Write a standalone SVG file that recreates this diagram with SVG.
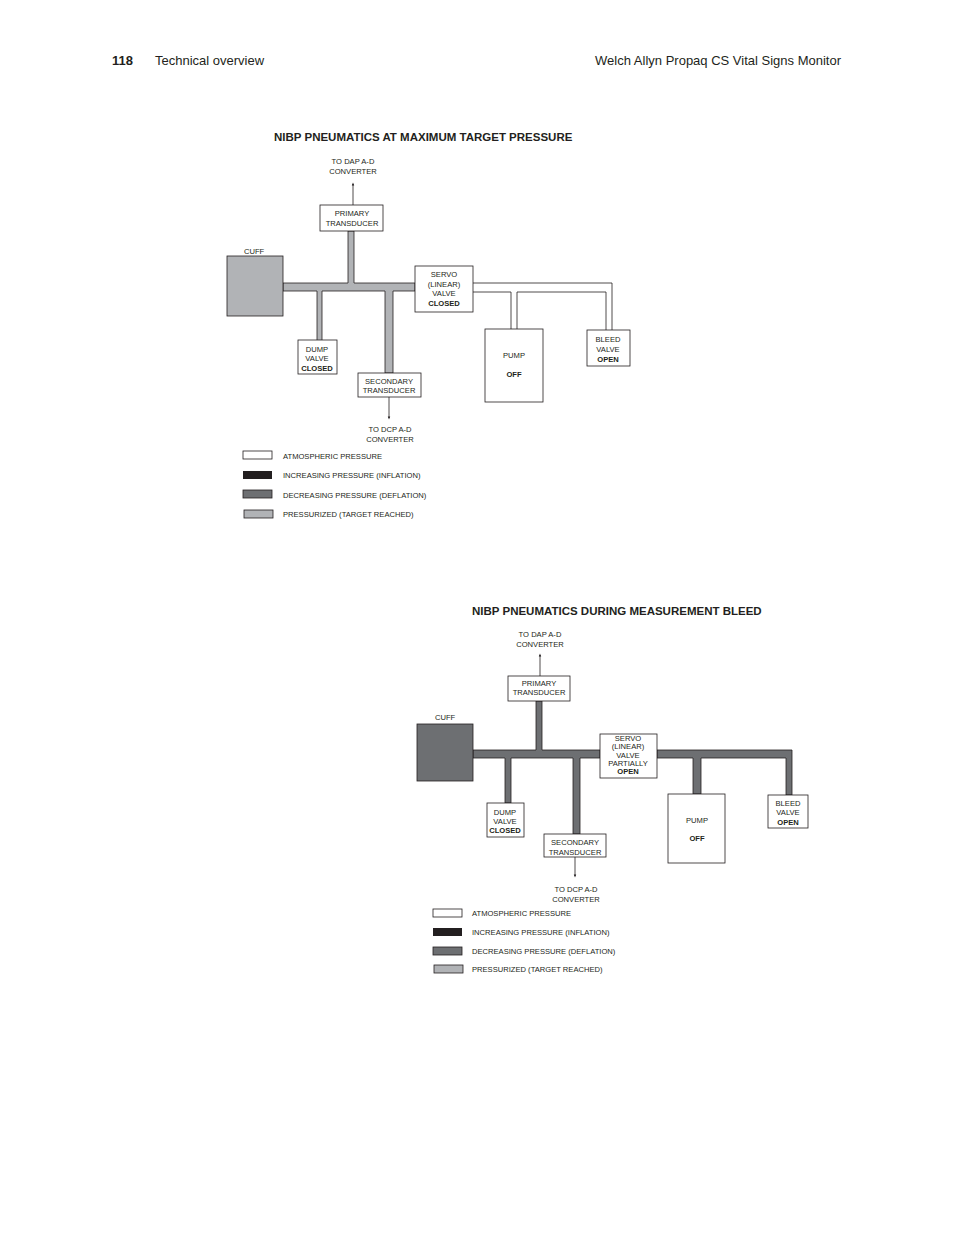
<svg xmlns="http://www.w3.org/2000/svg" width="954" height="1235" viewBox="0 0 954 1235">
<style>
text{font-family:"Liberation Sans",Arial,sans-serif;fill:#231f20}
.s{font-size:7.6px}
.c{text-anchor:middle}
.b{font-weight:bold}
.t{font-size:11.5px;font-weight:bold}
.h{font-size:13px;font-family:"Liberation Sans Narrow","Liberation Sans",sans-serif}
.box{fill:#fff;stroke:#231f20;stroke-width:0.8}
.lp{fill:#b1b3b6;stroke:#231f20;stroke-width:0.8}
.dp{fill:#6d6f72;stroke:#231f20;stroke-width:0.8}
.ln{fill:none;stroke:#231f20;stroke-width:0.8}
</style>
<defs><marker id="ah" markerWidth="4" markerHeight="4" refX="2" refY="2" orient="auto"><path d="M0,0.5L4,2L0,3.5z" fill="#231f20"/></marker></defs>
<g id="header">
<text class="h b" x="112" y="65">118</text>
<text class="h" x="155" y="65">Technical overview</text>
<text class="h" x="841" y="65" text-anchor="end">Welch Allyn Propaq CS Vital Signs Monitor</text>
</g>
<text class="t" x="274" y="141">NIBP PNEUMATICS AT MAXIMUM TARGET PRESSURE</text>
<g id="connectors1">
<path class="lp" d="M283,283H348V231H354V283H415V291H393V373H385V291H322V341H317V291H283Z"/>
<path class="ln" d="M473,283H612V330M473,292H511V329M517,329V292H606V330"/>
<line class="ln" x1="353" y1="205" x2="353" y2="184" marker-end="url(#ah)"/>
<line class="ln" x1="389" y1="397" x2="389" y2="418" marker-end="url(#ah)"/>
</g>
<g id="cuff1"><rect class="lp" x="227" y="256" width="56" height="60"/><text class="s" x="244" y="254">CUFF</text></g>
<g id="primary1"><rect class="box" x="320" y="205" width="63" height="26"/><text class="s c" x="352" y="216">PRIMARY</text><text class="s c" x="352" y="226">TRANSDUCER</text></g>
<text class="s c" x="353" y="164">TO DAP A-D</text><text class="s c" x="353" y="174">CONVERTER</text>
<g id="dump1"><rect class="box" x="298" y="340" width="39" height="34"/><text class="s c" x="317" y="352">DUMP</text><text class="s c" x="317" y="361">VALVE</text><text class="s c b" x="317" y="371">CLOSED</text></g>
<g id="secondary1"><rect class="box" x="358" y="373" width="63" height="24"/><text class="s c" x="389" y="384">SECONDARY</text><text class="s c" x="389" y="393">TRANSDUCER</text></g>
<text class="s c" x="390" y="432">TO DCP A-D</text><text class="s c" x="390" y="442">CONVERTER</text>
<g id="servo1"><rect class="box" x="415" y="266" width="58" height="46"/><text class="s c" x="444" y="277">SERVO</text><text class="s c" x="444" y="287">(LINEAR)</text><text class="s c" x="444" y="296">VALVE</text><text class="s c b" x="444" y="306">CLOSED</text></g>
<g id="pump1"><rect class="box" x="485" y="329" width="58" height="73"/><text class="s c" x="514" y="358">PUMP</text><text class="s c b" x="514" y="377">OFF</text></g>
<g id="bleed1"><rect class="box" x="587" y="330" width="43" height="36"/><text class="s c" x="608" y="342">BLEED</text><text class="s c" x="608" y="352">VALVE</text><text class="s c b" x="608" y="362">OPEN</text></g>
<g id="legend1">
<rect class="box" x="243" y="451" width="29" height="8"/><text class="s" x="283" y="459">ATMOSPHERIC PRESSURE</text>
<rect x="243" y="471" width="29" height="8" fill="#231f20"/><text class="s" x="283" y="478">INCREASING PRESSURE (INFLATION)</text>
<rect class="dp" x="243" y="490" width="29" height="8"/><text class="s" x="283" y="498">DECREASING PRESSURE (DEFLATION)</text>
<rect class="lp" x="244" y="510" width="29" height="8"/><text class="s" x="283" y="517">PRESSURIZED (TARGET REACHED)</text>
</g>
<text class="t" x="472" y="615">NIBP PNEUMATICS DURING MEASUREMENT BLEED</text>
<g id="connectors2">
<path class="dp" d="M473,750H536V701H542V750H600V758H580V834H573V758H511V803H505V758H473Z"/>
<path class="dp" d="M657,750H792V795H786V758H701V794H693V758H657Z"/>
<line class="ln" x1="540" y1="676" x2="540" y2="655" marker-end="url(#ah)"/>
<line class="ln" x1="575" y1="857" x2="575" y2="876" marker-end="url(#ah)"/>
</g>
<g id="cuff2"><rect class="dp" x="417" y="724" width="56" height="57"/><text class="s" x="435" y="720">CUFF</text></g>
<g id="primary2"><rect class="box" x="508" y="676" width="62" height="25"/><text class="s c" x="539" y="686">PRIMARY</text><text class="s c" x="539" y="695">TRANSDUCER</text></g>
<text class="s c" x="540" y="637">TO DAP A-D</text><text class="s c" x="540" y="647">CONVERTER</text>
<g id="dump2"><rect class="box" x="487" y="803" width="37" height="34"/><text class="s c" x="505" y="815">DUMP</text><text class="s c" x="505" y="824">VALVE</text><text class="s c b" x="505" y="833">CLOSED</text></g>
<g id="secondary2"><rect class="box" x="544" y="834" width="62" height="23"/><text class="s c" x="575" y="845">SECONDARY</text><text class="s c" x="575" y="855">TRANSDUCER</text></g>
<text class="s c" x="576" y="892">TO DCP A-D</text><text class="s c" x="576" y="902">CONVERTER</text>
<g id="servo2"><rect class="box" x="600" y="734" width="57" height="44"/><text class="s c" x="628" y="741">SERVO</text><text class="s c" x="628" y="749">(LINEAR)</text><text class="s c" x="628" y="758">VALVE</text><text class="s c" x="628" y="766">PARTIALLY</text><text class="s c b" x="628" y="774">OPEN</text></g>
<g id="pump2"><rect class="box" x="668" y="794" width="57" height="69"/><text class="s c" x="697" y="823">PUMP</text><text class="s c b" x="697" y="841">OFF</text></g>
<g id="bleed2"><rect class="box" x="768" y="795" width="40" height="33"/><text class="s c" x="788" y="806">BLEED</text><text class="s c" x="788" y="815">VALVE</text><text class="s c b" x="788" y="825">OPEN</text></g>
<g id="legend2">
<rect class="box" x="433" y="909" width="29" height="8"/><text class="s" x="472" y="916">ATMOSPHERIC PRESSURE</text>
<rect x="433" y="928" width="29" height="8" fill="#231f20"/><text class="s" x="472" y="935">INCREASING PRESSURE (INFLATION)</text>
<rect class="dp" x="433" y="947" width="29" height="8"/><text class="s" x="472" y="954">DECREASING PRESSURE (DEFLATION)</text>
<rect class="lp" x="434" y="965" width="29" height="8"/><text class="s" x="472" y="972">PRESSURIZED (TARGET REACHED)</text>
</g>
</svg>
